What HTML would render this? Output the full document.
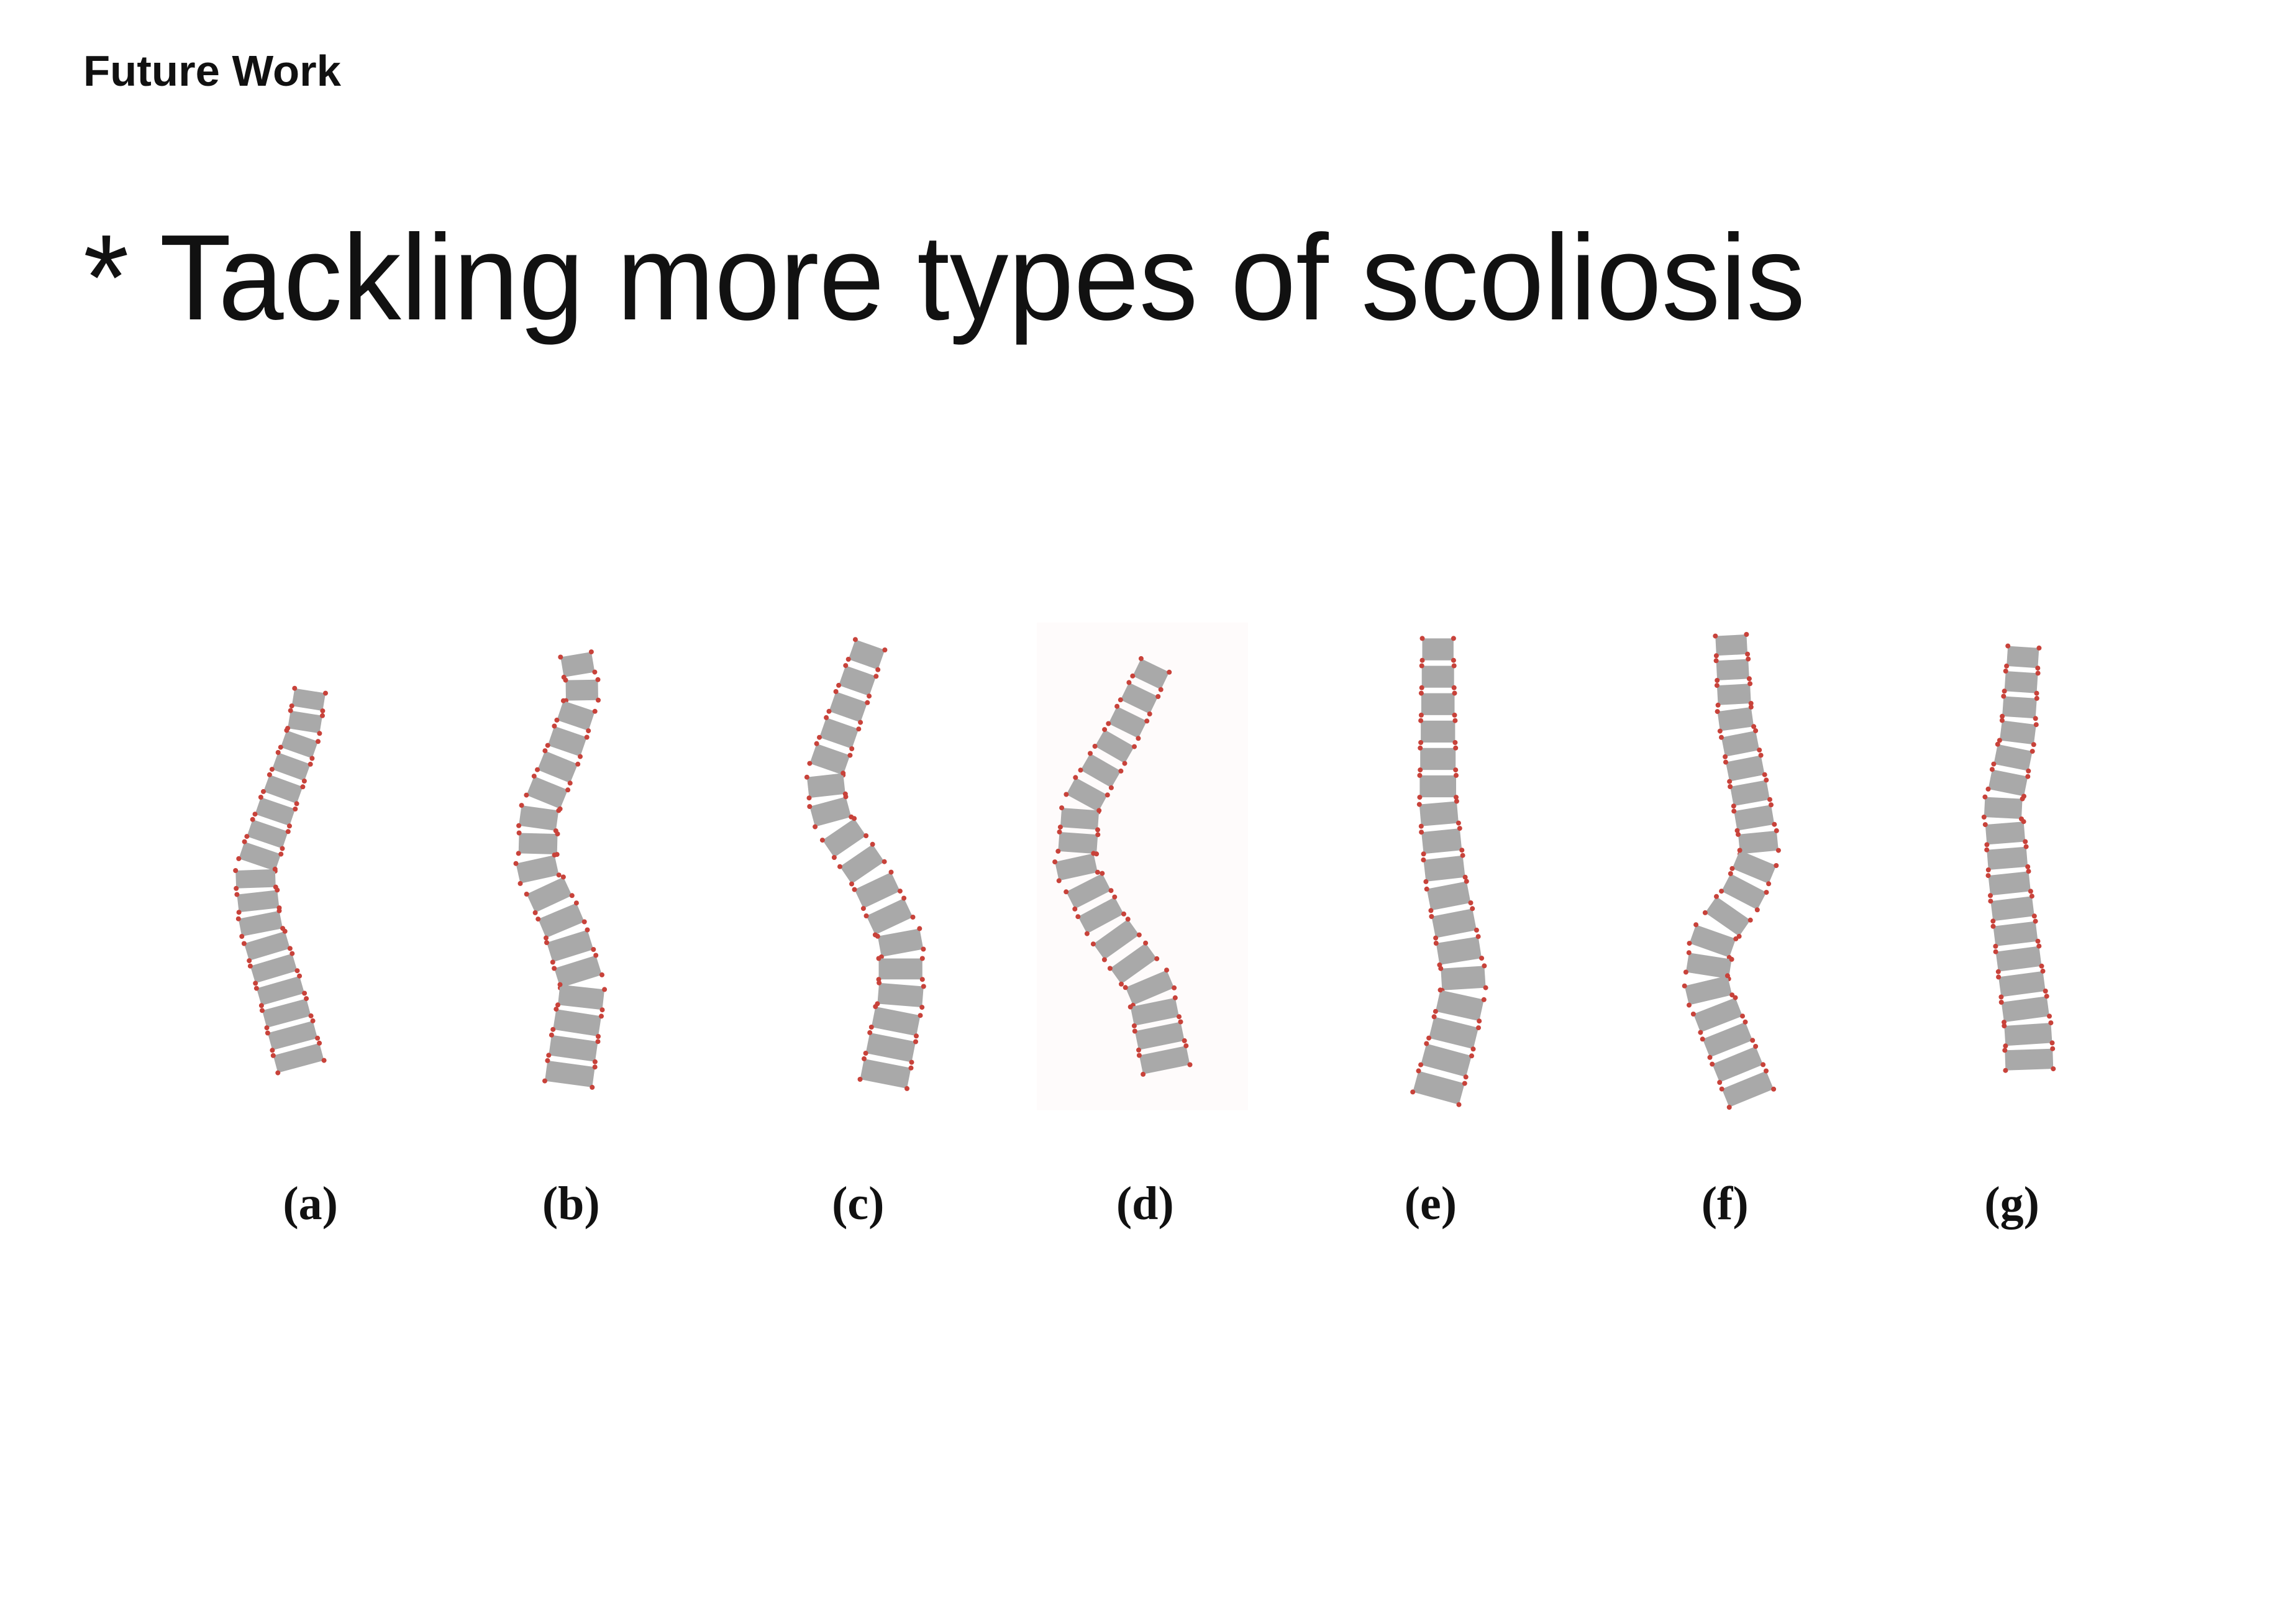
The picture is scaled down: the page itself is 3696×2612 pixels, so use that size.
<!DOCTYPE html>
<html><head><meta charset="utf-8"><style>
html,body{margin:0;padding:0;background:#fff}
svg{display:block}
</style></head><body>
<svg id="fig" xmlns="http://www.w3.org/2000/svg" width="3696" height="2612" viewBox="0 0 3696 2612">
<rect width="3696" height="2612" fill="#fff"/>
<rect x="1669" y="1002" width="340" height="785" fill="#fefbfb"/>
<text x="134" y="138" font-family="Liberation Sans, sans-serif" font-weight="bold" font-size="70" fill="#111" textLength="415" lengthAdjust="spacingAndGlyphs">Future Work</text>
<text x="134" y="514" font-family="Liberation Sans, sans-serif" font-size="196" fill="#111" textLength="2772" lengthAdjust="spacingAndGlyphs">* Tackling more types of scoliosis</text>
<g id="spines"></g>
<g id="labels"></g>
</svg>
<script>
// data in displayed-image units (scale 2.357 to real pixels)
const panelLabels = ['(a)','(b)','(c)','(d)','(e)','(f)','(g)'];
const labelX = [212,390,586,782,977,1178,1374];
const spineTop = [470,445,438,452,434,432,440];
const spineBottom = [730,742,742,732,752,752,732];
const keyY = [
 [0,0.12,0.3,0.48,0.62,0.8,1],
 [0,0.1,0.23,0.37,0.5,0.63,0.77,0.9,1],
 [0,0.14,0.3,0.4,0.53,0.67,0.8,1],
 [0,0.17,0.35,0.5,0.64,0.79,1],
 [0,0.2,0.36,0.52,0.65,0.75,0.85,1],
 [0,0.18,0.34,0.47,0.56,0.65,0.75,0.87,1],
 [0,0.21,0.38,0.55,0.72,0.9,1]
];
const keyX = [
 [212,207,190,174,178,192,206],
 [393,398,385,368,367,385,398,392,388],
 [595,580,563,568,595,615,615,603],
 [790,767,738,735,755,785,797],
 [982,982,982,987,995,1000,993,980],
 [1182,1185,1195,1202,1190,1170,1165,1180,1197],
 [1382,1378,1368,1372,1378,1385,1386]
];
const vertebraCount = [17,17,17,17,17,19,17];
const S = 3696/1568;
const NS='http://www.w3.org/2000/svg';
const g=document.getElementById('spines');
function xAt(i,t){const ky=keyY[i],kx=keyX[i];for(let k=0;k<ky.length-1;k++){if(t<=ky[k+1]){const f=(t-ky[k])/(ky[k+1]-ky[k]);return kx[k]+f*(kx[k+1]-kx[k]);}}return kx[kx.length-1];}
for(let i=0;i<7;i++){
  const n=vertebraCount[i];
  const sg=document.createElementNS(NS,'g');
  
  
  g.appendChild(sg);
  const span=(spineBottom[i]-spineTop[i])*S;
  const pitch=span/n;
  for(let j=0;j<n;j++){
    const t=(j+0.5)/n;
    const cy=spineTop[i]*S+t*span;
    const cx=xAt(i,t)*S;
    const dx=(xAt(i,Math.min(1,t+0.03))-xAt(i,Math.max(0,t-0.03)))*S;
    const dy=(Math.min(1,t+0.03)-Math.max(0,t-0.03))*span;
    const ang=Math.atan2(dx,dy);
    const w=(21+t*12)*S, h=pitch*0.8;
    const c=Math.cos(ang),s=Math.sin(ang);
    const pts=[[-w/2,-h/2],[w/2,-h/2],[w/2,h/2],[-w/2,h/2]].map(([px,py])=>[cx+px*c+py*s,cy-px*s+py*c]);
    const p=document.createElementNS(NS,'polygon');
    
    
    p.setAttribute('points',pts.map(q=>q[0].toFixed(1)+','+q[1].toFixed(1)).join(' '));
    p.setAttribute('fill','#a9a9a9');
    sg.appendChild(p);
    pts.forEach(q=>{
      const d=document.createElementNS(NS,'circle');
      
      
      d.setAttribute('cx',q[0].toFixed(1));d.setAttribute('cy',q[1].toFixed(1));
      d.setAttribute('r','4');d.setAttribute('fill','#c8423a');
      sg.appendChild(d);
    });
  }
}
const lg=document.getElementById('labels');
panelLabels.forEach((l,i)=>{
  const t=document.createElementNS(NS,'text');
  
  
  t.setAttribute('x',(labelX[i]*S).toFixed(1));
  t.setAttribute('y','1962');
  t.setAttribute('text-anchor','middle');
  t.setAttribute('font-family','Liberation Serif, serif');
  t.setAttribute('font-weight','bold');
  t.setAttribute('font-size','76');
  t.setAttribute('fill','#111');
  t.textContent=l;
  lg.appendChild(t);
});
</script>
</body></html>
